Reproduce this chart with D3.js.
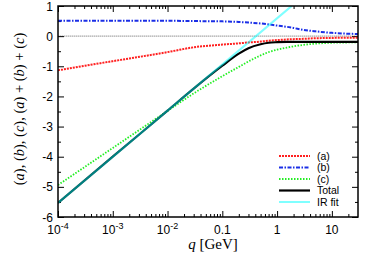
<!DOCTYPE html>
<html>
<head>
<meta charset="utf-8">
<script src="https://cdn.jsdelivr.net/npm/d3@7"></script>
<style>
  body { margin: 0; background: #fff; }
  svg { display: block; }
</style>
</head>
<body>
<svg id="chart"></svg>
<script>
// momentum values (GeV) and the curves
const qValues = [1e-4, 1e-3, 1e-2, 0.03, 0.1, 0.2, 0.3, 0.5, 0.7, 1, 1.5, 2, 3, 5, 10, 20, 30];
const seriesA = [-1.13, -0.83, -0.53, -0.37, -0.28, -0.24, -0.21, -0.18, -0.15, -0.13, -0.11, -0.10, -0.09, -0.07, -0.06, -0.05, -0.05];
const seriesB = [0.51, 0.51, 0.51, 0.50, 0.49, 0.47, 0.45, 0.42, 0.39, 0.35, 0.31, 0.27, 0.21, 0.16, 0.11, 0.08, 0.07];
const seriesC = [-4.94, -3.71, -2.48, -1.90, -1.33, -1.02, -0.84, -0.64, -0.53, -0.45, -0.38, -0.34, -0.29, -0.25, -0.22, -0.21, -0.20];
const seriesTotal = [-5.53, -4.00, -2.47, -1.74, -0.98, -0.58, -0.40, -0.27, -0.22, -0.20, -0.19, -0.19, -0.19, -0.19, -0.19, -0.19, -0.19];
const irFitQ = [1e-4, 1.85];
const irFitValues = [-5.53, 1.0];

const xMajorTicks = [1e-4, 1e-3, 1e-2, 0.1, 1, 10];
const xTickLabels = [["10", "-4"], ["10", "-3"], ["10", "-2"], ["0.1"], ["1"], ["10"]];
const yTicks = [1, 0, -1, -2, -3, -4, -5, -6];
const legendLabels = ["(a)", "(b)", "(c)", "Total", "IR fit"];

const width = 366, height = 261;
const plotLeft = 58, plotRight = 358, plotTop = 6, plotBottom = 217;

const svg = d3.select("#chart")
    .attr("width", width)
    .attr("height", height);

const x = d3.scaleLog().domain([1e-4, 30]).range([plotLeft, plotRight]);
const y = d3.scaleLinear().domain([-6, 1]).range([plotBottom, plotTop]);

// minor ticks: 2..9 in every decade
const xMinor = [];
for (let e = -4; e <= 1; e++) {
    for (let m = 2; m <= 9; m++) {
        const v = m * Math.pow(10, e);
        if (v < 30) xMinor.push(v);
    }
}
const yMinor = d3.range(-5.5, 1, 1);

// clip for curves
svg.append("clipPath").attr("id", "plot-clip")
    .append("rect")
    .attr("x", plotLeft).attr("y", plotTop)
    .attr("width", plotRight - plotLeft).attr("height", plotBottom - plotTop);

// zero line
svg.append("line")
    .attr("x1", plotLeft).attr("x2", plotRight)
    .attr("y1", y(0)).attr("y2", y(0))
    .attr("stroke", "#aaa")
    .attr("stroke-width", 1.4)
    .attr("stroke-dasharray", "1.5,0.5");

// axes, ticks inward on all four sides
function addAxis(axis, tx, ty) {
    const g = svg.append("g")
        .attr("transform", `translate(${tx},${ty})`)
        .call(axis);
    g.select(".domain").remove();
    g.selectAll("line").attr("stroke", "#000").attr("stroke-width", 1);
    return g;
}

addAxis(d3.axisBottom(x).tickValues(xMajorTicks).tickSize(-6).tickFormat(""), 0, plotBottom);
addAxis(d3.axisBottom(x).tickValues(xMinor).tickSize(-3).tickFormat(""), 0, plotBottom);
addAxis(d3.axisTop(x).tickValues(xMajorTicks).tickSize(-6).tickFormat(""), 0, plotTop);
addAxis(d3.axisTop(x).tickValues(xMinor).tickSize(-3).tickFormat(""), 0, plotTop);
addAxis(d3.axisLeft(y).tickValues(yTicks).tickSize(-6).tickFormat(""), plotLeft, 0);
addAxis(d3.axisLeft(y).tickValues(yMinor).tickSize(-3).tickFormat(""), plotLeft, 0);
addAxis(d3.axisRight(y).tickValues(yTicks).tickSize(-6).tickFormat(""), plotRight, 0);
addAxis(d3.axisRight(y).tickValues(yMinor).tickSize(-3).tickFormat(""), plotRight, 0);

// y tick labels
svg.append("g").selectAll("text")
    .data(yTicks)
    .enter()
    .append("text")
    .attr("x", plotLeft - 5)
    .attr("y", d => y(d) + 4.5)
    .attr("text-anchor", "end")
    .attr("font-family", "Liberation Sans, Arial, sans-serif")
    .attr("font-size", 12)
    .text(d => d);

// x tick labels with superscripts
const xLabels = svg.append("g").selectAll("text")
    .data(xMajorTicks)
    .enter()
    .append("text")
    .attr("x", d => x(d))
    .attr("y", plotBottom + 17)
    .attr("text-anchor", "middle")
    .attr("font-family", "Liberation Sans, Arial, sans-serif")
    .attr("font-size", 12);

xLabels.each(function (d, i) {
    const t = d3.select(this);
    const parts = xTickLabels[i];
    t.append("tspan").text(parts[0]);
    if (parts.length > 1) {
        t.append("tspan")
            .attr("font-size", 9)
            .attr("dy", -5)
            .text(parts[1]);
    }
});

// curves
const line = d3.line()
    .x(d => x(d[0]))
    .y(d => y(d[1]))
    .curve(d3.curveMonotoneX);

const curves = [
    { values: seriesA, color: "#ff2020", width: 2, dash: "2,1" },
    { values: seriesB, color: "#1a2ee6", width: 2, dash: "4,1.5,1.5,1.5" },
    { values: seriesC, color: "#22ee22", width: 1.8, dash: "1.5,1.5" },
    { values: seriesTotal, color: "#000", width: 2.2, dash: null }
];

const plot = svg.append("g").attr("clip-path", "url(#plot-clip)");

curves.forEach(c => {
    plot.append("path")
        .datum(qValues.map((q, i) => [q, c.values[i]]))
        .attr("fill", "none")
        .attr("stroke", c.color)
        .attr("stroke-width", c.width)
        .attr("stroke-dasharray", c.dash)
        .attr("d", line);
});

// IR fit, half transparent so it turns teal over the black total
plot.append("path")
    .datum(irFitQ.map((q, i) => [q, irFitValues[i]]))
    .attr("fill", "none")
    .attr("stroke", "#00ffff")
    .attr("stroke-opacity", 0.5)
    .attr("stroke-width", 2.2)
    .attr("d", d3.line().x(d => x(d[0])).y(d => y(d[1])));

// frame
svg.append("rect")
    .attr("x", plotLeft).attr("y", plotTop)
    .attr("width", plotRight - plotLeft).attr("height", plotBottom - plotTop)
    .attr("fill", "none")
    .attr("stroke", "#000")
    .attr("stroke-width", 1.5);

// legend
const legendStyles = [
    { color: "#ff2020", width: 2, dash: "2,1", opacity: 1 },
    { color: "#1a2ee6", width: 2, dash: "4,1.5,1.5,1.5", opacity: 1 },
    { color: "#22ee22", width: 1.8, dash: "1.5,1.5", opacity: 1 },
    { color: "#000", width: 2.2, dash: null, opacity: 1 },
    { color: "#00ffff", width: 2, dash: null, opacity: 0.5 }
];

const legend = svg.append("g");
legendLabels.forEach((label, i) => {
    const ly = 156 + i * 11.5;
    const st = legendStyles[i];
    legend.append("line")
        .attr("x1", 279).attr("x2", 310)
        .attr("y1", ly).attr("y2", ly)
        .attr("stroke", st.color)
        .attr("stroke-opacity", st.opacity)
        .attr("stroke-width", st.width)
        .attr("stroke-dasharray", st.dash);
    legend.append("text")
        .attr("x", 317)
        .attr("y", ly + 3.8)
        .attr("font-family", "Liberation Sans, Arial, sans-serif")
        .attr("font-size", 10.5)
        .text(label);
});

// axis titles
const yTitle = svg.append("text")
    .attr("transform", `translate(24,109) rotate(-90)`)
    .attr("text-anchor", "middle")
    .attr("font-family", "Liberation Serif, DejaVu Serif, serif")
    .attr("font-size", 14.5);
const yParts = ["(", "a", "), (", "b", "), (", "c", "), (", "a", ") + (", "b", ") + (", "c", ")"];
yParts.forEach((p, i) => {
    yTitle.append("tspan")
        .attr("font-style", i % 2 === 1 ? "italic" : "normal")
        .text(p);
});

const xTitle = svg.append("text")
    .attr("x", 213)
    .attr("y", 249)
    .attr("text-anchor", "middle")
    .attr("font-family", "Liberation Serif, DejaVu Serif, serif")
    .attr("font-size", 15);
xTitle.append("tspan").attr("font-style", "italic").text("q");
xTitle.append("tspan").text(" [GeV]");
</script>
</body>
</html>
